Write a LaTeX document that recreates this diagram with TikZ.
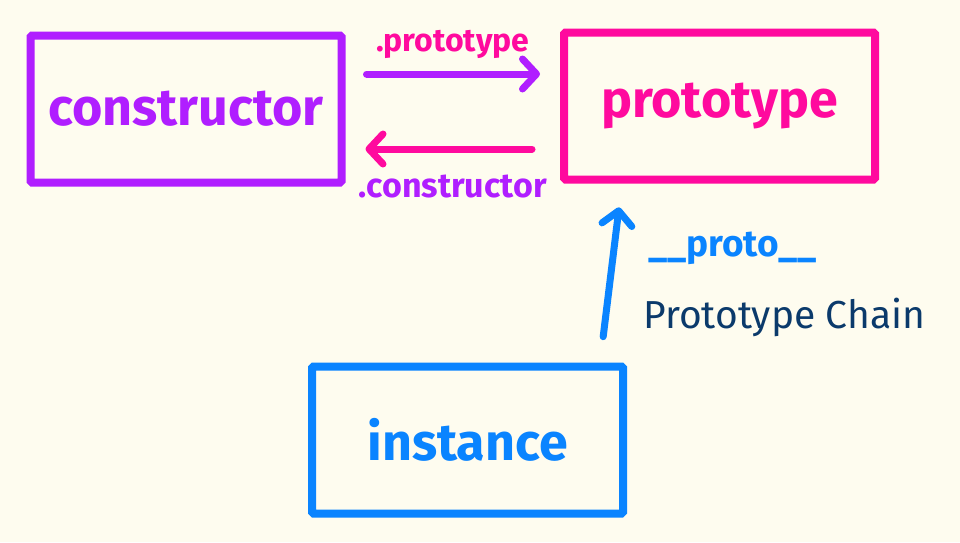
\documentclass[tikz,border=0pt]{standalone}
\usepackage{fontspec}
\setmainfont{Fira Sans}
\usetikzlibrary{positioning,calc,arrows.meta}
\definecolor{ctor_purple}{HTML}{B01EFF}
\definecolor{proto_pink}{HTML}{FF0A9E}
\definecolor{inst_blue}{HTML}{0A84FF}
\definecolor{ChainNavy}{HTML}{0B3A6B}
\definecolor{PaperCream}{HTML}{FEFCEF}
\tikzset{
  objbox/.style={draw, rectangle, line width=8pt, rounded corners=1.5pt, minimum width=311pt, minimum height=147pt, inner sep=0pt, font=\fontsize{52}{60}\selectfont\bfseries},
  arrow/.style={-{Straight Barb[length=14pt,width=30pt,round]}, line width=7pt, line cap=round},
  lbl/.style={inner sep=0pt, font=\fontsize{32}{38}\selectfont\bfseries},
  chainlbl/.style={inner sep=0pt, text=ChainNavy, font=\fontsize{39}{45}\selectfont},
}

\begin{document}
\begin{tikzpicture}[x=1pt, y=-1pt]

  \fill[PaperCream] (0,0) rectangle (960,542);
  \useasboundingbox (0,0) rectangle (960,542);

  \node[objbox, draw=ctor_purple, text=ctor_purple] (cons) at (186,109) {constructor};
  \node[objbox, draw=proto_pink, text=proto_pink] (proto) at (719.5,106) {prototype};
  \node[objbox, draw=inst_blue, text=inst_blue] (inst) at (467.5,440) {instance};

  % --- constructor <-> prototype ---------------------------------------------
  \coordinate (toprow) at (0,74);
  \coordinate (botrow) at (0,149);

  \draw[arrow, ctor_purple, shorten <=21pt, shorten >=20pt]
    (cons.east |- toprow) -- (proto.west |- toprow)
    node[lbl, text=proto_pink, midway, yshift=30pt] (protolbl) {.prototype};
  \draw[arrow, proto_pink, shorten <=28pt, shorten >=20pt]
    (proto.west |- botrow) -- (cons.east |- botrow)
    node[lbl, text=ctor_purple, midway, yshift=-37pt, font=\fontsize{34}{40}\selectfont\bfseries] (conslbl) {.constructor};

  % --- instance -> prototype -------------------------------------------------
  \draw[arrow, inst_blue, shorten <=26pt, shorten >=24pt]
    ([xshift=-27pt]inst.north east) -- ([xshift=62pt]proto.south west);

  \node[lbl, text=inst_blue, anchor=west, font=\fontsize{37}{43}\selectfont\bfseries] (dunder) at (648,248) {\_\_proto\_\_};
  \node[chainlbl, anchor=west] (chain) at (643,317) {Prototype Chain};

\end{tikzpicture}
\end{document}
